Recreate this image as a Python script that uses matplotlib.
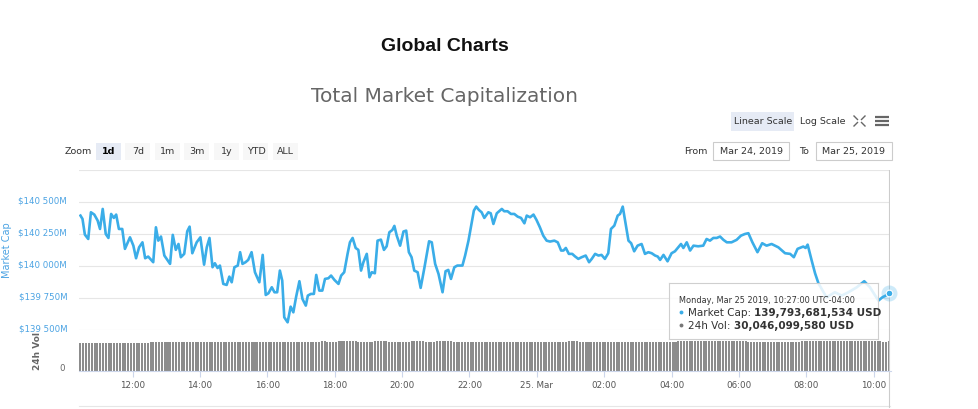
import numpy as np
import matplotlib.pyplot as plt
from matplotlib.patches import Rectangle
from matplotlib.transforms import ScaledTranslation

# market cap: hours after Mar 24 00:00 (UTC-04:00), values in million USD
mcap_hours = [
    10.45, 10.51, 10.58, 10.68, 10.76, 10.86, 10.96, 11.03, 11.11, 11.20,
    11.28, 11.36, 11.44, 11.51, 11.59, 11.69, 11.77, 11.92, 12.02, 12.10,
    12.19, 12.29, 12.37, 12.46, 12.61, 12.69, 12.76, 12.84, 12.94, 13.11,
    13.19, 13.28, 13.36, 13.43, 13.53, 13.62, 13.69, 13.77, 13.90, 14.01,
    14.12, 14.20, 14.28, 14.37, 14.44, 14.52, 14.59, 14.69, 14.79, 14.87,
    14.94, 15.02, 15.12, 15.19, 15.26, 15.35, 15.43, 15.53, 15.63, 15.76,
    15.86, 15.95, 16.03, 16.13, 16.21, 16.29, 16.37, 16.44, 16.50, 16.60,
    16.69, 16.77, 16.85, 16.95, 17.04, 17.14, 17.20, 17.29, 17.38, 17.45,
    17.54, 17.63, 17.71, 17.81, 17.89, 17.99, 18.11, 18.19, 18.28, 18.38,
    18.45, 18.53, 18.62, 18.70, 18.78, 18.85, 18.95, 19.03, 19.10, 19.19,
    19.27, 19.37, 19.46, 19.54, 19.62, 19.71, 19.77, 19.84, 19.94, 20.04,
    20.12, 20.20, 20.28, 20.36, 20.46, 20.55, 20.66, 20.80, 20.88, 20.98,
    21.08, 21.20, 21.29, 21.37, 21.45, 21.55, 21.64, 21.79, 21.87, 21.97,
    22.06, 22.13, 22.20, 22.28, 22.36, 22.44, 22.56, 22.63, 22.71, 22.81,
    22.96, 23.03, 23.13, 23.23, 23.33, 23.43, 23.53, 23.63, 23.70, 23.80,
    23.90, 23.99, 24.09, 24.19, 24.29, 24.39, 24.52, 24.62, 24.72, 24.79,
    24.86, 24.95, 25.05, 25.13, 25.23, 25.33, 25.45, 25.55, 25.63, 25.73,
    25.83, 25.92, 26.02, 26.12, 26.20, 26.30, 26.40, 26.47, 26.55, 26.62,
    26.72, 26.80, 26.89, 26.99, 27.11, 27.21, 27.31, 27.41, 27.51, 27.59,
    27.66, 27.76, 27.88, 28.00, 28.10, 28.28, 28.35, 28.45, 28.55, 28.65,
    28.79, 28.94, 29.04, 29.14, 29.24, 29.34, 29.44, 29.54, 29.64, 29.78,
    29.93, 30.06, 30.18, 30.28, 30.40, 30.55, 30.69, 30.82, 30.97, 31.17,
    31.37, 31.52, 31.63, 31.74, 31.91, 31.98, 32.04, 32.16, 32.26, 32.36,
    32.60, 32.85, 33.05, 33.25, 33.50, 33.72, 33.89, 34.14, 34.26, 34.36,
    34.45,
]
mcap_musd = [
    140394, 140368, 140246, 140212, 140420, 140402, 140355, 140290, 140446, 140251,
    140220, 140407, 140376, 140402, 140290, 140290, 140135, 140225, 140160, 140062,
    140147, 140186, 140062, 140075, 140031, 140303, 140199, 140231, 140083, 140018,
    140244, 140127, 140173, 140070, 140096, 140272, 140308, 140101, 140186, 140225,
    140012, 140147, 140220, 139992, 140023, 139986, 140005, 139862, 139854, 139919,
    139875, 139992, 140005, 140109, 140018, 140031, 140049, 140109, 139953, 139875,
    140088, 139776, 139789, 139836, 139797, 139797, 139966, 139888, 139602, 139563,
    139685, 139641, 139758, 139883, 139745, 139693, 139771, 139784, 139784, 139932,
    139810, 139810, 139901, 139906, 139927, 139893, 139862, 139927, 139953, 140096,
    140186, 140220, 140142, 140127, 139966, 140031, 140096, 139914, 139953, 139945,
    140199, 140207, 140127, 140155, 140264, 140282, 140314, 140238, 140160, 140270,
    140277, 140109, 140070, 139966, 139953, 139831, 139986, 140194, 140186, 140018,
    139940, 139797, 139961, 139971, 139901, 139992, 140005, 140005, 140083, 140199,
    140329, 140433, 140464, 140438, 140420, 140376, 140420, 140412, 140329, 140412,
    140446, 140428, 140428, 140407, 140407, 140386, 140376, 140334, 140394, 140381,
    140402, 140360, 140303, 140238, 140199, 140192, 140199, 140186, 140122, 140122,
    140142, 140096, 140096, 140077, 140057, 140070, 140083, 140031, 140057, 140096,
    140083, 140088, 140057, 140101, 140290, 140316, 140394, 140407, 140464, 140355,
    140199, 140179, 140116, 140160, 140173, 140096, 140109, 140101, 140083, 140075,
    140049, 140088, 140038, 140101, 140116, 140173, 140142, 140186, 140122, 140160,
    140155, 140160, 140212, 140199, 140220, 140220, 140231, 140205, 140186, 140186,
    140205, 140238, 140251, 140257, 140186, 140109, 140179, 140160, 140173, 140147,
    140101, 140096, 140070, 140135, 140153, 140142, 140168, 140044, 139945, 139867,
    139758, 139797, 139771, 139797, 139836, 139883, 139836, 139732, 139758, 139771,
    139794,
]

# 24h volume, one bar every 5 minutes from 10:27, billion USD (one row per hour)
vol_start = 10.45
vol_step = 5 / 60
vol_busd = [
    28.4, 28.4, 28.3, 28.4, 28.4, 28.4, 28.3, 28.4, 28.4, 28.4, 28.4, 28.3,
    28.4, 28.4, 28.4, 28.3, 28.4, 28.4, 28.4, 28.4, 28.4, 28.3, 28.4, 28.4,
    28.4, 29.9, 30.0, 30.0, 29.8, 29.8, 29.9, 29.8, 29.8, 29.8, 29.9, 29.8,
    29.8, 29.8, 29.8, 29.9, 29.8, 29.8, 29.8, 29.8, 29.8, 29.8, 29.8, 29.8,
    29.8, 29.8, 29.8, 29.8, 29.8, 29.7, 29.8, 29.8, 29.8, 29.8, 29.8, 29.8,
    29.8, 29.8, 29.8, 29.8, 29.8, 29.8, 29.8, 29.8, 29.8, 29.8, 29.8, 29.8,
    29.8, 29.8, 29.8, 29.8, 29.8, 29.8, 29.8, 29.8, 29.8, 29.8, 29.8, 29.8,
    29.8, 29.8, 30.2, 30.2, 29.8, 29.8, 29.8, 29.8, 30.2, 30.2, 30.2, 30.2,
    30.2, 30.2, 30.2, 29.8, 29.8, 29.8, 29.8, 29.8, 29.8, 30.2, 30.2, 30.2,
    30.2, 30.2, 29.8, 29.8, 29.8, 29.8, 29.8, 29.8, 29.8, 29.8, 30.2, 30.2,
    30.2, 30.2, 30.2, 29.8, 29.8, 29.8, 29.8, 30.2, 30.2, 30.2, 30.2, 30.2,
    30.2, 29.8, 29.8, 29.8, 29.8, 29.8, 29.8, 29.8, 29.8, 29.8, 29.8, 29.8,
    29.8, 29.8, 29.8, 29.8, 29.8, 29.8, 29.8, 29.8, 29.8, 29.8, 29.8, 29.8,
    29.8, 29.8, 29.8, 29.8, 29.8, 29.8, 29.8, 29.8, 29.8, 29.8, 29.8, 29.8,
    29.8, 29.8, 29.8, 29.8, 29.8, 29.8, 30.1, 30.1, 30.1, 30.1, 29.8, 29.8,
    29.8, 29.8, 29.8, 29.8, 29.8, 29.8, 29.8, 29.8, 29.8, 29.8, 29.8, 29.8,
    29.8, 29.8, 29.8, 29.8, 29.8, 29.8, 29.8, 29.8, 29.8, 29.8, 29.8, 29.8,
    29.8, 29.8, 29.8, 29.8, 29.8, 29.8, 29.8, 29.8, 29.8, 30.1, 30.1, 30.1,
    30.1, 30.1, 30.1, 30.1, 30.1, 30.1, 30.1, 30.1, 30.1, 30.1, 30.1, 30.1,
    30.1, 30.1, 30.1, 30.1, 30.1, 30.1, 30.1, 30.1, 30.1, 30.1, 29.8, 29.8,
    29.8, 29.8, 29.8, 29.8, 29.8, 29.8, 29.8, 29.8, 29.8, 29.8, 29.8, 29.8,
    29.8, 29.8, 29.8, 29.8, 29.8, 30.1, 30.1, 30.1, 30.1, 30.1, 30.1, 30.1,
    30.1, 30.1, 30.1, 30.1, 30.1, 30.1, 30.1, 30.1, 30.1, 30.1, 30.1, 30.1,
    30.1, 30.1, 30.1, 30.1, 30.1, 30.1, 30.1, 30.1, 30.1, 30.1, 30.0, 30.0,
    30.05,
]

x_ticks = [12, 14, 16, 18, 20, 22, 24, 26, 28, 30, 32, 34]
x_labels = ['12:00', '14:00', '16:00', '18:00', '20:00', '22:00', '25. Mar',
            '02:00', '04:00', '06:00', '08:00', '10:00']
cap_ticks = [139500, 139750, 140000, 140250, 140500]
cap_labels = ['$139 500M', '$139 750M', '$140 000M', '$140 250M', '$140 500M']

range_buttons = ['1d', '7d', '1m', '3m', '1y', 'YTD', 'ALL']
hover_time = 'Monday, Mar 25 2019, 10:27:00 UTC-04:00'
hover_cap = 139793681534
hover_vol = 30046099580

BLUE = '#3aade8'
LABEL_BLUE = '#4ba3e3'
W, H = 979, 410


def frac(x0, y0, x1, y1):
    return [x0 / W, 1 - y1 / H, (x1 - x0) / W, (y1 - y0) / H]


fig = plt.figure(figsize=(W / 100, H / 100), dpi=100)
fig.patch.set_facecolor('white')

# page furniture in pixel coordinates
ui = fig.add_axes([0, 0, 1, 1], zorder=-1)
ui.set_xlim(0, W)
ui.set_ylim(H, 0)
ui.axis('off')

ui.text(445, 51, 'Global Charts', ha='center', va='baseline', fontsize=14,
        fontweight='bold', family='Liberation Sans', color='#111111')
ui.text(445, 101.5, 'Total Market Capitalization', ha='center', va='baseline',
        fontsize=14.5, color='#666666')

ui.text(65, 152, 'Zoom', ha='left', va='center', fontsize=6.8, color='#333333')
btn_left = [96, 125.5, 155, 184.5, 214, 243.5, 273]
for i, (lab, bx) in enumerate(zip(range_buttons, btn_left)):
    sel = i == 0
    ui.add_patch(Rectangle((bx, 143.5), 25, 17, facecolor='#e6ebf5' if sel else '#f7f7f7',
                           edgecolor='none'))
    ui.text(bx + 12.5, 152, lab, ha='center', va='center', fontsize=6.8,
            color='#000000' if sel else '#333333', fontweight='bold' if sel else 'normal')

ui.add_patch(Rectangle((731.5, 112.5), 63, 19, facecolor='#e6ebf5', edgecolor='none'))
ui.text(763, 122, 'Linear Scale', ha='center', va='center', fontsize=6.8, color='#333333')
ui.text(822.5, 122, 'Log Scale', ha='center', va='center', fontsize=6.8, color='#333333')
for (xa, ya, xb, yb) in [(854, 117, 857.5, 120.5), (865, 117, 861.5, 120.5),
                         (854, 127, 857.5, 123.5), (865, 127, 861.5, 123.5)]:
    ui.plot([xa, xb], [ya, yb], color='#666666', lw=1)
for yy in (118, 122, 126):
    ui.plot([875, 889], [yy, yy], color='#666666', lw=1.6, solid_capstyle='butt')

ui.text(695.5, 151.5, 'From', ha='center', va='center', fontsize=6.8, color='#333333')
ui.add_patch(Rectangle((713.5, 142.5), 76, 18, facecolor='white', edgecolor='#cccccc', lw=0.8))
ui.text(751.5, 151.5, 'Mar 24, 2019', ha='center', va='center', fontsize=6.8, color='#333333')
ui.text(804, 151.5, 'To', ha='center', va='center', fontsize=6.8, color='#333333')
ui.add_patch(Rectangle((816, 142.5), 76, 18, facecolor='white', edgecolor='#cccccc', lw=0.8))
ui.text(854, 151.5, 'Mar 25, 2019', ha='center', va='center', fontsize=6.8, color='#333333')
ui.plot([79, 890], [406.5, 406.5], color='#e6e6e6', lw=0.8)

ui.text(7, 250, 'Market Cap', rotation=90, ha='center', va='center', fontsize=7,
        color=LABEL_BLUE)
ui.text(38, 351, '24h Vol', rotation=90, ha='center', va='center', fontsize=6.5,
        fontweight='bold', color='#666666')

# price panel
ax = fig.add_axes(frac(79, 170.9, 890.5, 331.4))
ax.set_facecolor('none')
ax.plot(mcap_hours, mcap_musd, color=BLUE, lw=1.9, solid_joinstyle='round', zorder=3)
ax.set_xlim(10.406, 34.50)
ax.set_ylim(139500, 140750)
ax.set_yticks(cap_ticks + [140750])
ax.set_yticklabels(cap_labels + [''])
ax.grid(axis='y', color='#e6e6e6', lw=0.8)
ax.set_axisbelow(True)
ax.tick_params(axis='y', length=0, pad=8.5, labelsize=6.2, labelcolor=LABEL_BLUE)
ax.tick_params(axis='x', bottom=False, labelbottom=False)
shift = ScaledTranslation(0, 0.035, fig.dpi_scale_trans)
for lab in ax.get_yticklabels():
    lab.set_transform(lab.get_transform() + shift)
for s in ax.spines.values():
    s.set_visible(False)

# hover crosshair and marker
ax.axvline(mcap_hours[-1], color='#cccccc', lw=0.8, zorder=2)
ax.plot(mcap_hours[-1], mcap_musd[-1], 'o', ms=11.5, color=BLUE, alpha=0.25, mec='none',
        clip_on=False, zorder=4)
ax.plot(mcap_hours[-1], mcap_musd[-1], 'o', ms=4.8, color=BLUE, mec='white', mew=0.8,
        clip_on=False, zorder=5)

# volume panel
axv = fig.add_axes(frac(79, 331.4, 890.5, 371.5), sharex=ax)
axv.set_facecolor('none')
vol_hours = vol_start + vol_step * np.arange(len(vol_busd))
axv.bar(vol_hours, vol_busd, width=vol_step * 0.72, color='#8c8c8c', edgecolor='none',
        antialiased=False)
axv.set_ylim(0, 41.5)
axv.set_yticks([0])
axv.set_yticklabels(['0'])
axv.tick_params(axis='y', length=0, pad=10.5, labelsize=6.2, labelcolor='#666666')
for lab in axv.get_yticklabels():
    lab.set_transform(lab.get_transform() + shift)
axv.set_xticks(x_ticks)
axv.set_xticklabels(x_labels)
axv.tick_params(axis='x', length=4, width=0.8, color='#ccd6eb', labelsize=6.3,
                labelcolor='#555555', pad=3)
for k, s in axv.spines.items():
    s.set_visible(k == 'bottom')
axv.spines['bottom'].set_color('#ccd6eb')
axv.spines['bottom'].set_linewidth(0.8)
axv.axvline(mcap_hours[-1], ymin=-0.9, ymax=1, color='#cccccc', lw=0.8, clip_on=False)

# tooltip
tip = fig.add_axes(frac(669.3, 284, 878, 340), zorder=5)
tip.set_xlim(0, 1)
tip.set_ylim(0, 1)
tip.set_facecolor((1, 1, 1, 0.85))
tip.set_xticks([])
tip.set_yticks([])
for s in tip.spines.values():
    s.set_color('#cfcfcf')
    s.set_linewidth(0.8)
tip.text(0.046, 0.70, hover_time, ha='left', va='center', fontsize=5.9, color='#333333')
rows = [(0.4875, BLUE, 'Market Cap: ', hover_cap), (0.25, '#777777', '24h Vol: ', hover_vol)]
for yy, col, name, val in rows:
    tip.plot(0.058, yy, 'o', ms=2.8, color=col, mec='none')
    t1 = tip.text(0.09, yy, name, ha='left', va='center', fontsize=7.5, color='#333333')
    tip.annotate(f'{val:,} USD', xy=(1, 0.5), xycoords=t1, ha='left', va='center',
                 fontsize=7.5, fontweight='bold', color='#333333')

fig.savefig('out.png', dpi=100)
